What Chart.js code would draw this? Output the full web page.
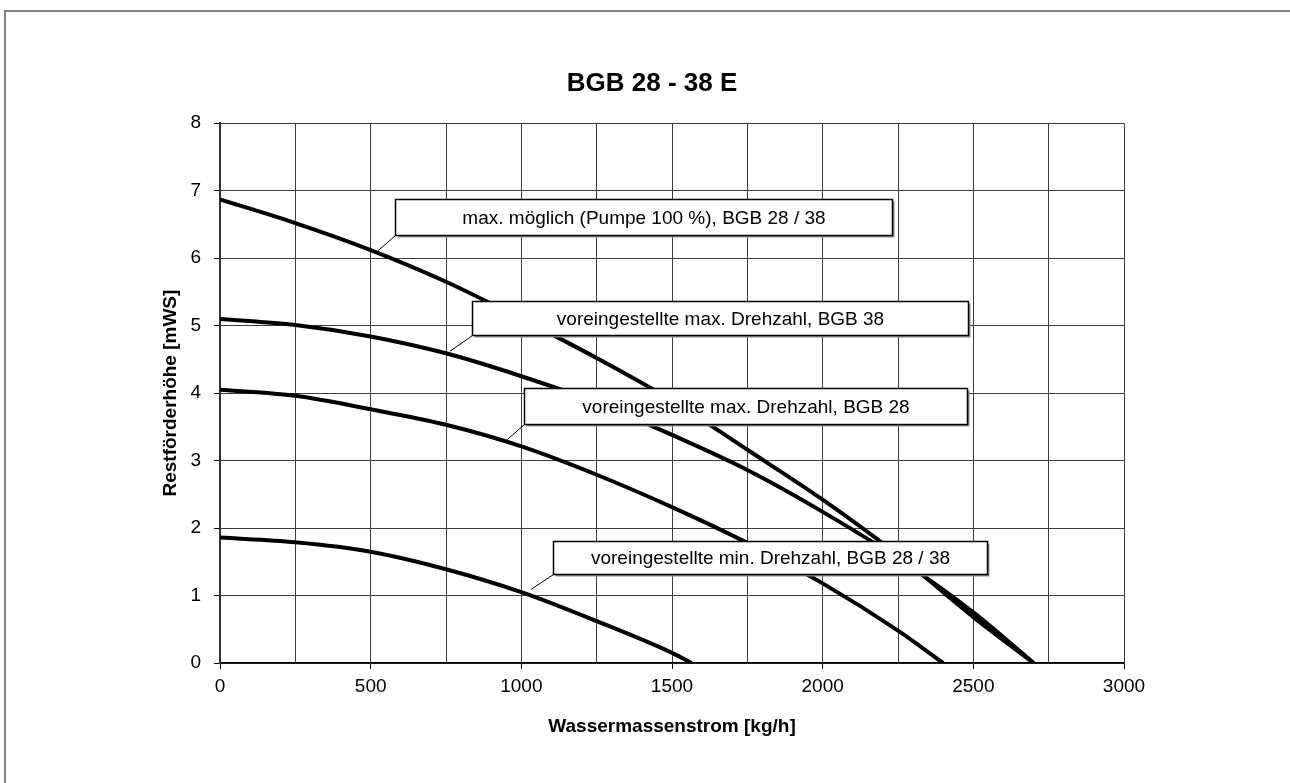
<!DOCTYPE html>
<html>
<head>
<meta charset="utf-8">
<title>BGB 28 - 38 E</title>
<script src="https://cdn.jsdelivr.net/npm/chart.js@4.4.1/dist/chart.umd.min.js"></script>
<style>
  html, body { margin: 0; padding: 0; background: #fff; }
  #chart { display: block; }
</style>
</head>
<body>
<canvas id="chart" width="1290" height="783"></canvas>
<script>
// Pumpenkennlinien BGB 28 - 38 E

const FONT = '"Liberation Sans", Arial, sans-serif';

// Wassermassenstrom [kg/h]
const flowMax = [0, 250, 500, 750, 1000, 1250, 1500, 1750, 2000, 2250, 2500, 2700];
const flow28 = [0, 250, 500, 750, 1000, 1250, 1500, 1750, 2000, 2250, 2400];
const flowMin = [0, 250, 500, 750, 1000, 1250, 1500, 1565];

// Restförderhöhe [mWS]
const headPump100 = [6.87, 6.52, 6.12, 5.65, 5.10, 4.52, 3.89, 3.16, 2.42, 1.60, 0.68, 0];
const headMax38 = [5.10, 5.01, 4.84, 4.59, 4.25, 3.86, 3.38, 2.86, 2.24, 1.55, 0.75, 0];
const headMax28 = [4.05, 3.96, 3.76, 3.53, 3.21, 2.79, 2.31, 1.78, 1.18, 0.48, 0];
const headMin = [1.86, 1.79, 1.65, 1.39, 1.05, 0.62, 0.15, 0];

const seriesNames = [
  'max. möglich (Pumpe 100 %), BGB 28 / 38',
  'voreingestellte max. Drehzahl, BGB 38',
  'voreingestellte max. Drehzahl, BGB 28',
  'voreingestellte min. Drehzahl, BGB 28 / 38'
];

// Beschriftungskästen in Datenkoordinaten (Kasten + Zeigerspitze)
const callouts = [
  { x0: 581, x1: 2231, yTop: 6.87, yBottom: 6.34, tipX: 514, tipY: 6.07 },
  { x0: 837, x1: 2483, yTop: 5.37, yBottom: 4.86, tipX: 763, tipY: 4.62 },
  { x0: 1010, x1: 2480, yTop: 4.07, yBottom: 3.545, tipX: 953, tipY: 3.31 },
  { x0: 1106, x1: 2544, yTop: 1.81, yBottom: 1.32, tipX: 1032, tipY: 1.09 }
];

function toPoints(xs, ys) {
  return xs.map((x, i) => ({ x: x, y: ys[i] }));
}

function curve(label, xs, ys) {
  return {
    label: label,
    data: toPoints(xs, ys),
    borderColor: '#000',
    borderWidth: 4,
    pointRadius: 0,
    fill: false,
    cubicInterpolationMode: 'monotone'
  };
}

// Grauer Rahmen um das ganze Diagramm
const framePlugin = {
  id: 'frame',
  beforeDraw(chart) {
    const ctx = chart.ctx;
    ctx.save();
    ctx.fillStyle = '#fff';
    ctx.fillRect(0, 0, chart.width, chart.height);
    ctx.strokeStyle = '#808080';
    ctx.lineWidth = 2;
    ctx.strokeRect(5, 11, chart.width + 20, chart.height + 20);
    ctx.restore();
  }
};

// Beschriftungskästen mit Zeigerlinie
const calloutPlugin = {
  id: 'callouts',
  afterDatasetsDraw(chart) {
    const ctx = chart.ctx;
    const xs = chart.scales.x;
    const ys = chart.scales.y;
    ctx.save();
    callouts.forEach((c, i) => {
      const left = Math.round(xs.getPixelForValue(c.x0)) + 0.5;
      const right = Math.round(xs.getPixelForValue(c.x1)) + 0.5;
      const top = Math.round(ys.getPixelForValue(c.yTop)) + 0.5;
      const bottom = Math.round(ys.getPixelForValue(c.yBottom)) + 0.5;
      const tx = xs.getPixelForValue(c.tipX);
      const ty = ys.getPixelForValue(c.tipY);

      // Zeiger
      ctx.strokeStyle = '#000';
      ctx.lineWidth = 1;
      ctx.beginPath();
      ctx.moveTo(left, bottom);
      ctx.lineTo(tx, ty);
      ctx.stroke();

      // Schatten
      ctx.fillStyle = '#8c8c8c';
      ctx.fillRect(left + 2, top + 2, right - left, bottom - top);

      // Kasten
      ctx.fillStyle = '#fff';
      ctx.fillRect(left, top, right - left, bottom - top);
      ctx.lineWidth = 1.5;
      ctx.strokeStyle = '#000';
      ctx.strokeRect(left, top, right - left, bottom - top);

      ctx.fillStyle = '#000';
      ctx.font = '19px ' + FONT;
      ctx.textAlign = 'center';
      ctx.textBaseline = 'middle';
      ctx.fillText(seriesNames[i], (left + right) / 2, (top + bottom) / 2 + 1);
    });
    ctx.restore();
  }
};

const ctx = document.getElementById('chart').getContext('2d');

new Chart(ctx, {
  type: 'line',
  data: {
    datasets: [
      curve(seriesNames[0], flowMax, headPump100),
      curve(seriesNames[1], flowMax, headMax38),
      curve(seriesNames[2], flow28, headMax28),
      curve(seriesNames[3], flowMin, headMin)
    ]
  },
  options: {
    responsive: false,
    animation: false,
    devicePixelRatio: 1,
    layout: {
      padding: { left: 180, right: 166, top: 0, bottom: 30 }
    },
    plugins: {
      legend: { display: false },
      tooltip: { enabled: false },
      title: {
        display: true,
        text: 'BGB 28 - 38 E',
        color: '#000',
        font: { family: FONT, size: 26, weight: 'bold', lineHeight: 1.2 },
        padding: { top: 68, bottom: 24 }
      }
    },
    scales: {
      x: {
        type: 'linear',
        min: 0,
        max: 3000,
        afterFit(scale) { scale.height = 90; },
        ticks: {
          stepSize: 250,
          autoSkip: false,
          maxRotation: 0,
          padding: 6,
          color: '#000',
          font: { family: FONT, size: 19 },
          callback: v => (v % 500 === 0 ? String(v) : '')
        },
        grid: {
          color: '#3c3c3c',
          lineWidth: 1,
          tickLength: 6,
          tickColor: c => (c.tick && c.tick.value % 500 === 0 ? '#000' : 'rgba(0,0,0,0)')
        },
        border: { color: '#000', width: 1.5 },
        title: {
          display: true,
          text: 'Wassermassenstrom [kg/h]',
          color: '#000',
          font: { family: FONT, size: 19, weight: 'bold', lineHeight: 1.2 },
          padding: { top: 0, bottom: 15 }
        }
      },
      y: {
        type: 'linear',
        min: 0,
        max: 8,
        afterFit(scale) { scale.width = 40; },
        ticks: {
          stepSize: 1,
          padding: 13,
          color: '#000',
          font: { family: FONT, size: 19 }
        },
        grid: {
          color: '#3c3c3c',
          lineWidth: 1,
          tickLength: 6,
          tickColor: '#000'
        },
        border: { color: '#333', width: 2 },
        title: {
          display: true,
          text: 'Restförderhöhe [mWS]',
          color: '#000',
          font: { family: FONT, size: 19, weight: 'bold', lineHeight: 1.2 },
          padding: { top: -21, bottom: 0 }
        }
      }
    }
  },
  plugins: [framePlugin, calloutPlugin]
});
</script>
</body>
</html>
